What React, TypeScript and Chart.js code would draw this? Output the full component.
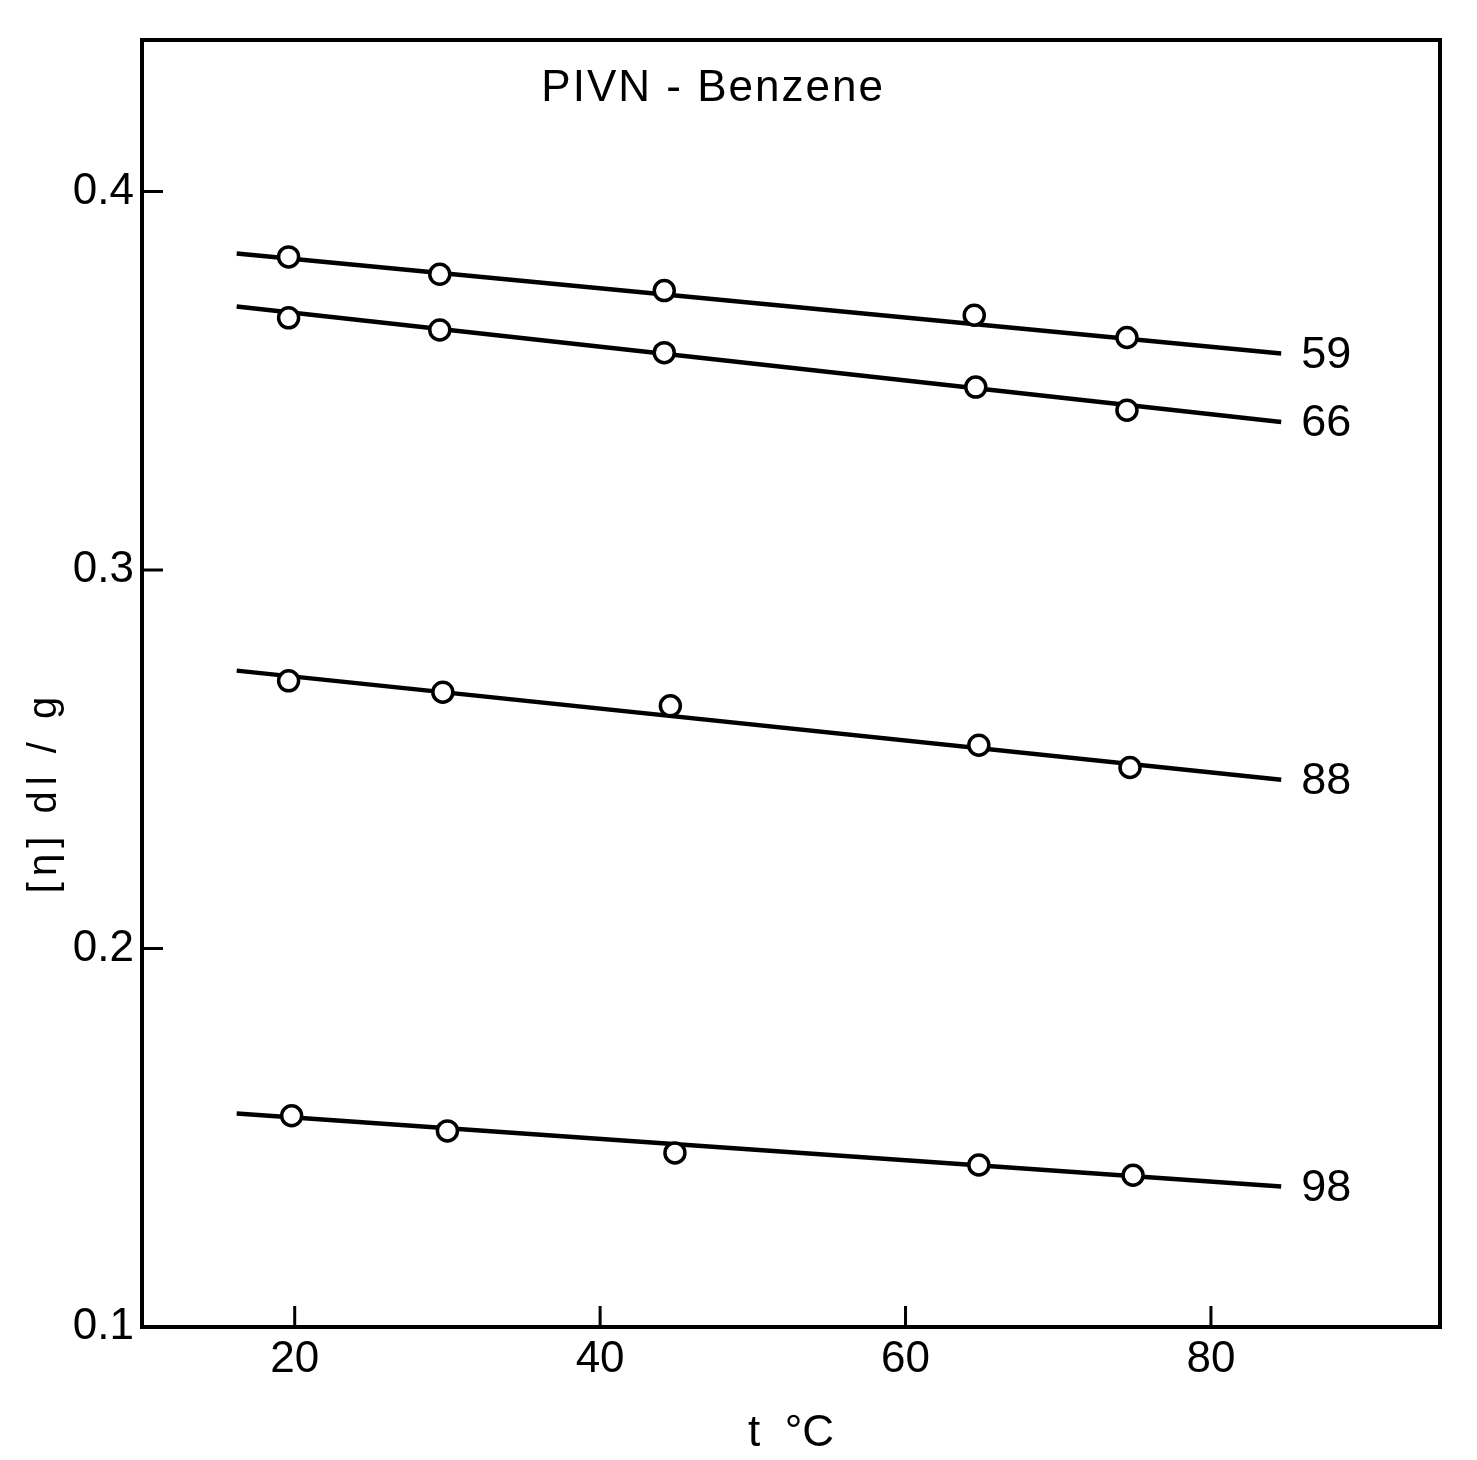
import React, { useEffect, useRef } from "react";
import { Chart, registerables } from "chart.js";

Chart.register(...registerables);

// ---- data ----
const xTicks = [20, 40, 60, 80];
const yTicks = [0.1, 0.2, 0.3, 0.4];
const seriesLabels = ["59", "66", "88", "98"];

const tempsM59 = [19.6, 29.5, 44.2, 64.5, 74.5];
const etaM59 = [0.3827, 0.3781, 0.3738, 0.3673, 0.3614];
const tempsM66 = [19.6, 29.5, 44.2, 64.6, 74.5];
const etaM66 = [0.3666, 0.3634, 0.3574, 0.3483, 0.3422];
const tempsM88 = [19.6, 29.7, 44.6, 64.8, 74.7];
const etaM88 = [0.2707, 0.2677, 0.2641, 0.2537, 0.2478];
const tempsM98 = [19.8, 30.0, 44.9, 64.8, 74.9];
const etaM98 = [0.1558, 0.1518, 0.146, 0.1428, 0.1401];

const fitX = [16.2, 84.6];
const fitM59 = [0.3836, 0.3572];
const fitM66 = [0.3696, 0.3391];
const fitM88 = [0.2734, 0.2446];
const fitM98 = [0.1564, 0.1371];

const titleText = "PIVN - Benzene";
const yTitle = "[η] dl / g";
const xTitle = "t  °C";

const FONT = '"Liberation Sans", "DejaVu Sans", sans-serif';

const pts = (xs: number[], ys: number[]) => xs.map((x, i) => ({ x, y: ys[i] }));

export default function App() {
  const ref = useRef<HTMLCanvasElement | null>(null);

  useEffect(() => {
    if (!ref.current) return;
    const pointSets = [
      pts(tempsM59, etaM59),
      pts(tempsM66, etaM66),
      pts(tempsM88, etaM88),
      pts(tempsM98, etaM98),
    ];
    const fitSets = [fitM59, fitM66, fitM88, fitM98].map((f) => pts(fitX, f));

    const datasets: any[] = [];
    pointSets.forEach((d, i) => {
      datasets.push({
        label: "M " + seriesLabels[i],
        data: d,
        showLine: false,
        pointRadius: 10,
        pointBorderWidth: 3.5,
        pointBackgroundColor: "#ffffff",
        pointBorderColor: "#000000",
        order: 0,
      });
    });
    fitSets.forEach((d, i) => {
      datasets.push({
        label: "fit " + seriesLabels[i],
        data: d,
        showLine: true,
        borderColor: "#000000",
        borderWidth: 4.5,
        pointRadius: 0,
        order: 1,
      });
    });

    const annotate = {
      id: "annotate",
      afterDraw(chart: any) {
        const { ctx, chartArea: a, scales } = chart;
        const x = scales.x;
        const y = scales.y;
        ctx.save();
        ctx.strokeStyle = "#000";
        ctx.fillStyle = "#000";
        ctx.lineWidth = 4;
        ctx.strokeRect(a.left, a.top, a.right - a.left, a.bottom - a.top);
        ctx.lineWidth = 3;
        ctx.beginPath();
        for (const v of xTicks) {
          const px = x.getPixelForValue(v);
          ctx.moveTo(px, a.bottom);
          ctx.lineTo(px, a.bottom - 21);
        }
        for (const v of yTicks) {
          const py = y.getPixelForValue(v);
          ctx.moveTo(a.left, py);
          ctx.lineTo(a.left + 21, py);
        }
        ctx.stroke();

        ctx.font = "45px " + FONT;
        ctx.textBaseline = "middle";
        ctx.textAlign = "left";
        [fitM59, fitM66, fitM88, fitM98].forEach((f, i) => {
          ctx.fillText(
            seriesLabels[i],
            x.getPixelForValue(fitX[1]) + 20,
            y.getPixelForValue(f[1]) + 2
          );
        });

        ctx.font = "44px " + FONT;
        ctx.textAlign = "center";
        (ctx as any).letterSpacing = "2px";
        ctx.fillText(titleText, a.left + 0.44 * (a.right - a.left), a.top + 49);

        ctx.font = "40px " + FONT;
        (ctx as any).letterSpacing = "6px";
        ctx.translate(45, 792);
        ctx.rotate(-Math.PI / 2);
        ctx.fillText(yTitle, 0, 0);
        ctx.restore();
      },
    };

    const chart = new Chart(ref.current, {
      type: "scatter",
      data: { datasets },
      plugins: [annotate],
      options: {
        animation: false,
        responsive: false,
        devicePixelRatio: 1,
        layout: { padding: { top: 40, right: 37, left: 0, bottom: 0 } },
        plugins: {
          legend: { display: false },
          tooltip: { enabled: false },
          title: { display: false },
        },
        scales: {
          x: {
            type: "linear",
            min: 10,
            max: 95,
            afterBuildTicks: (s: any) => {
              s.ticks = xTicks.map((value) => ({ value }));
            },
            afterFit: (s: any) => {
              s.height = 133;
            },
            grid: { display: false, drawTicks: false },
            border: { display: false },
            ticks: {
              color: "#000",
              padding: 6,
              font: { family: FONT, size: 44 },
              maxRotation: 0,
              callback: (v: any) => String(v),
            },
            title: {
              display: true,
              text: xTitle,
              color: "#000",
              font: { family: FONT, size: 44, lineHeight: 1.2 },
              padding: { top: 0, bottom: 0 },
            },
          },
          y: {
            type: "linear",
            min: 0.1,
            max: 0.44,
            afterBuildTicks: (s: any) => {
              s.ticks = yTicks.map((value) => ({ value }));
            },
            afterFit: (s: any) => {
              s.width = 142;
            },
            grid: { display: false, drawTicks: false },
            border: { display: false },
            ticks: {
              color: "#000",
              padding: 8,
              font: { family: FONT, size: 44 },
              callback: (v: any) => Number(v).toFixed(1),
            },
          },
        },
      },
    });
    return () => chart.destroy();
  }, []);

  return (
    <div style={{ position: "absolute", left: 0, top: 0, width: 1477, height: 1460, background: "#fff" }}>
      <canvas ref={ref} width={1477} height={1460} style={{ display: "block" }} />
    </div>
  );
}
